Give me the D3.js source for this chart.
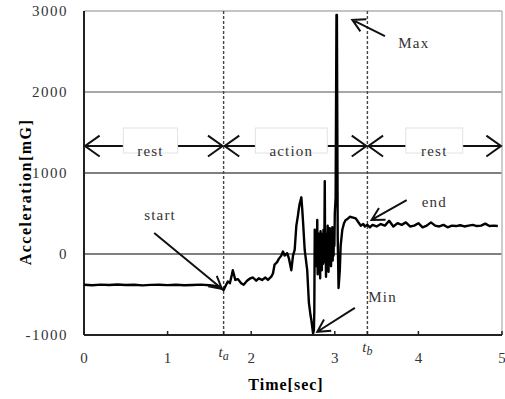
<!DOCTYPE html>
<html>
<head>
<meta charset="utf-8">
<script src="https://cdn.jsdelivr.net/npm/d3@7"></script>
<style>
  body { margin: 0; background: #fff; }
  svg { display: block; }
  text { font-family: "Liberation Serif", "Times New Roman", serif; }
</style>
</head>
<body>
<div id="chart"></div>
<script>
// ---- data ----
const yTicks = [-1000, 0, 1000, 2000, 3000];
const xTicks = [0, 1, 2, 3, 4, 5];
const tA = 1.67, tB = 3.39;

const time = [
  0, 0.1, 0.2, 0.3, 0.4, 0.5, 0.6, 0.7, 0.8, 0.9, 1.0, 1.1, 1.2, 1.3, 1.4, 1.5, 1.55, 1.6, 1.64, 1.67,
  1.70, 1.72, 1.745, 1.77, 1.78, 1.81, 1.84, 1.88, 1.91, 1.95, 1.99, 2.02, 2.06, 2.09, 2.13, 2.17, 2.20, 2.24,
  2.26, 2.28, 2.31, 2.33, 2.36, 2.38, 2.40, 2.43, 2.45, 2.48, 2.50, 2.52, 2.54, 2.56, 2.57, 2.58, 2.60, 2.61, 2.62, 2.64,
  2.67, 2.69, 2.71, 2.72, 2.73, 2.74, 2.75, 2.755, 2.76, 2.765, 2.77, 2.775, 2.78, 2.785, 2.79, 2.795, 2.80, 2.805,
  2.81, 2.815, 2.82, 2.825, 2.83, 2.835, 2.84, 2.845, 2.85, 2.855, 2.86, 2.865, 2.87, 2.875, 2.88, 2.885,
  2.89, 2.895, 2.90, 2.905, 2.91, 2.915, 2.92, 2.925, 2.93, 2.935, 2.94, 2.945, 2.95, 2.955, 2.96, 2.965,
  2.97, 2.975, 2.98, 2.985, 2.99, 2.995, 3.00, 3.01, 3.02, 3.025, 3.035, 3.045, 3.06, 3.07, 3.09, 3.11, 3.13,
  3.15, 3.18, 3.22, 3.25, 3.29, 3.31, 3.34, 3.36, 3.39, 3.42, 3.45, 3.50, 3.55, 3.60, 3.65, 3.70, 3.75, 3.80,
  3.85, 3.90, 3.95, 4.00, 4.05, 4.10, 4.15, 4.20, 4.25, 4.30, 4.35, 4.40, 4.45, 4.50, 4.55, 4.60, 4.65,
  4.70, 4.75, 4.80, 4.85, 4.90, 4.95, 5.00
];
const accel = [
  -380, -385, -378, -382, -376, -383, -380, -387, -381, -379, -384, -380, -386, -382, -378, -385, -390, -400, -420, -445,
  -380, -340, -360, -250, -200, -320, -310, -360, -380, -330, -300, -290, -330, -300, -320, -290, -320, -280,
  -240, -130, -100, -60, -20, 30, -20, 10, -50, -200, -20, 50, 350, 480, 560, 620, 700, 560, 400, 50,
  -200, -600, -760, -820, -900, -980, -940, -700, 300, -100, 150, -150, 200, 0, 420, -250, 150, -50,
  250, -150, 120, -300, 280, -80, 180, -200, 60, 250, -120, 300, 0, 150, 900, -100,
  200, -280, 100, 250, -150, 350, 30, -220, 180, -50, 320, 0, 100, -150, 250, 50,
  330, -80, 200, -20, 300, 100, 500, 700, 2950, 2950, 200, -420, -200, 100, 300, 380, 420,
  430, 460, 450, 440, 380, 350, 370, 340, 360, 330, 360, 340, 370, 350, 410, 340, 380,
  360, 390, 340, 350, 380, 330, 350, 390, 350, 340, 360, 330, 350, 345, 355, 340, 350,
  360, 345, 350, 375, 345, 350, 345
];

const phases = [
  { label: "rest", from: 0, to: tA, box: [0.47, 1.12] },
  { label: "action", from: tA, to: tB, box: [2.05, 2.91] },
  { label: "rest", from: tB, to: 5, box: [3.85, 4.53] }
];

// annotation arrows: [tail t, tail v, tip t, tip v], label position
const notes = [
  { label: "start", tail: [0.84, 260], tip: [1.65, -430], at: [0.91, 480], anchor: "middle" },
  { label: "Max", tail: [3.60, 2690], tip: [3.21, 2890], at: [3.76, 2605], anchor: "start" },
  { label: "end", tail: [3.86, 665], tip: [3.44, 420], at: [4.04, 640], anchor: "start" },
  { label: "Min", tail: [3.24, -665], tip: [2.79, -960], at: [3.40, -530], anchor: "start" }
];

// ---- setup ----
const width = 505, height = 399;
const x = d3.scaleLinear().domain([0, 5]).range([84, 502]);
const y = d3.scaleLinear().domain([-1000, 3000]).range([335, 11]);

const svg = d3.select("#chart").append("svg")
  .attr("width", width).attr("height", height);

// gridlines
const gridColor = { "3000": "#c4c4c4", "2000": "#a8a8a8", "1000": "#555", "0": "#555" };
svg.selectAll("line.grid")
  .data(yTicks.filter(d => d > -1000))
  .join("line")
  .attr("class", "grid")
  .attr("x1", x(0)).attr("x2", x(5))
  .attr("y1", d => y(d)).attr("y2", d => y(d))
  .attr("stroke", d => gridColor[d])
  .attr("stroke-width", d => d >= 2000 ? 2 : 1.5);

// right border
svg.append("line")
  .attr("x1", x(5)).attr("x2", x(5))
  .attr("y1", y(3000)).attr("y2", y(-1000))
  .attr("stroke", "#bbb").attr("stroke-width", 1.5);

// dashed t_a / t_b
svg.selectAll("line.tmark")
  .data([tA, tB])
  .join("line")
  .attr("class", "tmark")
  .attr("x1", d => x(d)).attr("x2", d => x(d))
  .attr("y1", y(3000)).attr("y2", y(-1000))
  .attr("stroke", "#444").attr("stroke-width", 1.4)
  .attr("stroke-dasharray", "3,2");

// axes
svg.append("line")
  .attr("x1", x(0)).attr("x2", x(0))
  .attr("y1", y(3000)).attr("y2", y(-1000))
  .attr("stroke", "#222").attr("stroke-width", 2);
svg.append("line")
  .attr("x1", x(0)).attr("x2", x(5))
  .attr("y1", y(-1000)).attr("y2", y(-1000))
  .attr("stroke", "#222").attr("stroke-width", 2);

svg.selectAll("line.xtick")
  .data(xTicks.concat([tA, tB]))
  .join("line")
  .attr("class", "xtick")
  .attr("x1", d => x(d)).attr("x2", d => x(d))
  .attr("y1", y(-1000) - 4).attr("y2", y(-1000))
  .attr("stroke", "#222").attr("stroke-width", 1.5);

// tick labels
svg.selectAll("text.ylab")
  .data(yTicks)
  .join("text")
  .attr("class", "ylab")
  .attr("x", 68).attr("y", d => y(d) + 5)
  .attr("text-anchor", "end")
  .attr("font-size", 15).attr("letter-spacing", 1.5)
  .attr("fill", "#333")
  .text(d => d);

svg.selectAll("text.xlab")
  .data(xTicks)
  .join("text")
  .attr("class", "xlab")
  .attr("x", d => x(d)).attr("y", 363)
  .attr("text-anchor", "middle")
  .attr("font-size", 15)
  .attr("fill", "#333")
  .text(d => d);

[[tA, "a", 357], [tB, "b", 352]].forEach(([t, sub, yy]) => {
  const lbl = svg.append("text")
    .attr("x", x(t)).attr("y", yy)
    .attr("text-anchor", "middle")
    .attr("font-size", 15).attr("font-style", "italic")
    .attr("fill", "#333");
  lbl.append("tspan").text("t");
  lbl.append("tspan").attr("dy", 3).attr("font-size", 12).text(sub);
});

// axis titles
svg.append("text")
  .attr("x", 286).attr("y", 390)
  .attr("text-anchor", "middle")
  .attr("font-size", 16).attr("font-weight", "bold")
  .attr("letter-spacing", 1)
  .text("Time[sec]");

svg.append("text")
  .attr("transform", "translate(31,192) rotate(-90)")
  .attr("text-anchor", "middle")
  .attr("font-size", 16).attr("font-weight", "bold")
  .attr("letter-spacing", 1.5)
  .text("Acceleration[mG]");

// signal
const pts = time.map((t, i) => [t, accel[i]]);
svg.append("path")
  .datum(pts)
  .attr("d", d3.line().x(d => x(d[0])).y(d => y(d[1])))
  .attr("fill", "none")
  .attr("stroke", "#000")
  .attr("stroke-width", 2.4)
  .attr("stroke-linejoin", "round");

// arrow helper: line from p0 to p1 with open V head at p1
function arrow(p0, p1, len, spread) {
  const a = Math.atan2(p1[1] - p0[1], p1[0] - p0[0]);
  const h1 = [p1[0] - len * Math.cos(a - spread), p1[1] - len * Math.sin(a - spread)];
  const h2 = [p1[0] - len * Math.cos(a + spread), p1[1] - len * Math.sin(a + spread)];
  const p = d3.path();
  p.moveTo(p0[0], p0[1]); p.lineTo(p1[0], p1[1]);
  p.moveTo(h1[0], h1[1]); p.lineTo(p1[0], p1[1]); p.lineTo(h2[0], h2[1]);
  svg.append("path")
    .attr("d", p.toString())
    .attr("fill", "none")
    .attr("stroke", "#111")
    .attr("stroke-width", 2)
    .attr("stroke-linejoin", "miter");
}

// phase arrows
const yArrow = y(1333);
phases.forEach(ph => {
  const a0 = x(ph.from) + 1, a1 = x(ph.to) - 1;
  const mid = (a0 + a1) / 2;
  arrow([mid, yArrow], [a0, yArrow], 18, 0.62);
  arrow([mid, yArrow], [a1, yArrow], 18, 0.62);
  svg.append("rect")
    .attr("x", x(ph.box[0])).attr("width", x(ph.box[1]) - x(ph.box[0]))
    .attr("y", 128).attr("height", 25)
    .attr("fill", "#fff")
    .attr("stroke", "#e2e2e2").attr("stroke-width", 1);
  svg.append("text")
    .attr("x", (x(ph.box[0]) + x(ph.box[1])) / 2).attr("y", 156)
    .attr("text-anchor", "middle")
    .attr("font-size", 15).attr("letter-spacing", 1.2)
    .attr("fill", "#333")
    .text(ph.label);
});

// annotations
notes.forEach(n => {
  arrow([x(n.tail[0]), y(n.tail[1])], [x(n.tip[0]), y(n.tip[1])], 14, 0.5);
  svg.append("text")
    .attr("x", x(n.at[0])).attr("y", y(n.at[1]) + 5)
    .attr("text-anchor", n.anchor)
    .attr("font-size", 15).attr("letter-spacing", 1.2)
    .attr("fill", "#333")
    .text(n.label);
});
</script>
</body>
</html>
